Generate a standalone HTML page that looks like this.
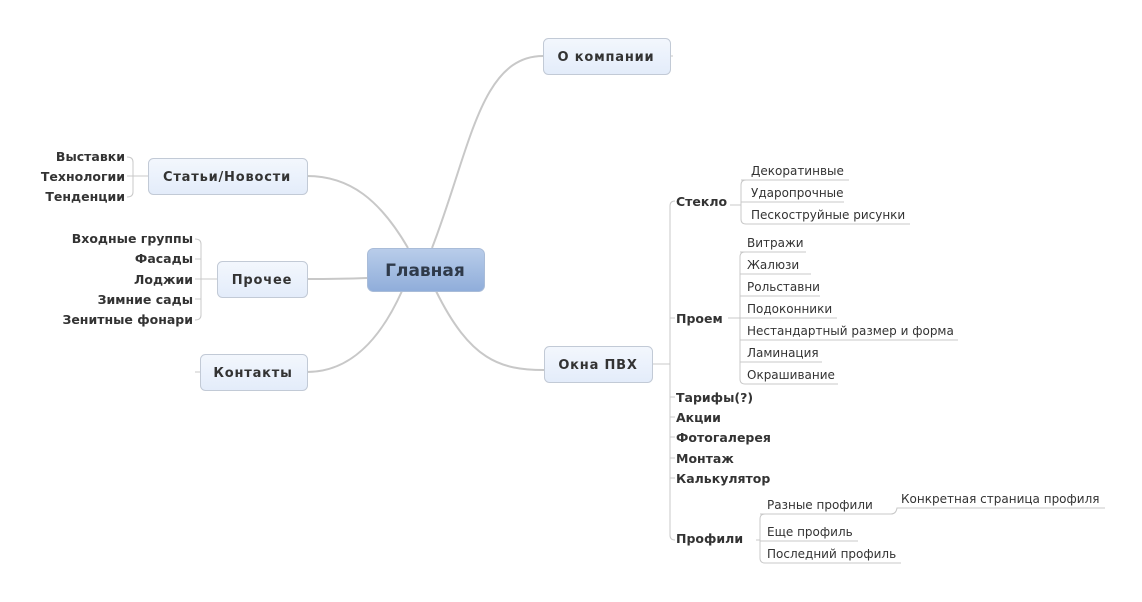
<!DOCTYPE html>
<html><head><meta charset="utf-8"><style>
html,body{margin:0;padding:0;background:#fff;}
svg{display:block;}
text{font-family:"DejaVu Sans","Liberation Sans",sans-serif;fill:#333;}
.b{font-weight:bold;font-size:12.5px;}
.n{font-size:12px;}
.t{font-weight:bold;font-size:13px;letter-spacing:0.8px;}
</style></head><body>
<svg width="1142" height="602" viewBox="0 0 1142 602" xmlns="http://www.w3.org/2000/svg">
<defs>
<linearGradient id="g1" x1="0" y1="0" x2="0" y2="1"><stop offset="0" stop-color="#f3f7fd"/><stop offset="1" stop-color="#e3ecfa"/></linearGradient>
<linearGradient id="g2" x1="0" y1="0" x2="0" y2="1"><stop offset="0" stop-color="#b9cdea"/><stop offset="1" stop-color="#8fadda"/></linearGradient>
</defs>
<g fill="none" stroke="#c8c8c8" stroke-width="2">
<path d="M432 248 C 470 150, 480 56, 543 56"/>
<path d="M436 291 C 470 360, 500 370, 544 370"/>
<path d="M408 248 C 380 200, 350 176, 307 176"/>
<path d="M367 278 C 340 279, 320 279, 307 279"/>
<path d="M402 291 C 380 340, 350 372, 307 372"/>
</g>
<g fill="none" stroke="#c8c8c8" stroke-width="1">
<line x1="670" y1="56" x2="673" y2="56"/>
<line x1="652" y1="364" x2="670" y2="364"/>
<line x1="195" y1="372" x2="200" y2="372"/>
<path d="M670 206 Q670 201 675 201 M670 206 V535 Q670 540 675 540"/>
<line x1="670" y1="318" x2="675" y2="318"/>
<line x1="670" y1="397" x2="675" y2="397"/>
<line x1="670" y1="417" x2="675" y2="417"/>
<line x1="670" y1="437" x2="675" y2="437"/>
<line x1="670" y1="458" x2="675" y2="458"/>
<line x1="670" y1="478" x2="675" y2="478"/>
<line x1="730" y1="205" x2="741" y2="205"/>
<path d="M746 180 Q741 180 741 185 V219 Q741 224 746 224"/>
<line x1="741" y1="180" x2="849" y2="180"/>
<line x1="741" y1="202" x2="844" y2="202"/>
<line x1="746" y1="224" x2="910" y2="224"/>
<line x1="728" y1="318" x2="740" y2="318"/>
<path d="M745 252 Q740 252 740 257 V379 Q740 384 745 384"/>
<line x1="740" y1="252" x2="806" y2="252"/>
<line x1="740" y1="274" x2="811" y2="274"/>
<line x1="740" y1="296" x2="820" y2="296"/>
<line x1="740" y1="318" x2="837" y2="318"/>
<line x1="740" y1="340" x2="958" y2="340"/>
<line x1="740" y1="362" x2="822" y2="362"/>
<line x1="745" y1="384" x2="838" y2="384"/>
<line x1="756" y1="540" x2="760" y2="540"/>
<path d="M765 514 Q760 514 760 519 V558 Q760 563 765 563"/>
<line x1="760" y1="514" x2="891" y2="514"/>
<path d="M891 514 Q896 514 897 508 L1105 508"/>
<line x1="760" y1="541" x2="858" y2="541"/>
<line x1="765" y1="563" x2="901" y2="563"/>
<path d="M127 157 Q133 157 133 162 V192 Q133 197 127 197"/>
<line x1="127" y1="176" x2="148" y2="176"/>
<path d="M195 239 Q201 239 201 244 V315 Q201 320 195 320"/>
<line x1="195" y1="259" x2="201" y2="259"/>
<line x1="195" y1="279" x2="217" y2="279"/>
<line x1="195" y1="299" x2="201" y2="299"/>
</g>
<rect x="367.5" y="248.5" width="117" height="43" rx="6" fill="url(#g2)" stroke="#a9bcd8"/>
<text x="425" y="276" text-anchor="middle" style="font-weight:bold;font-size:17px;fill:#2f3a4a">Главная</text>
<rect x="543.5" y="38.5" width="127" height="36" rx="5" fill="url(#g1)" stroke="#c2cad6"/>
<text x="606" y="61" text-anchor="middle" class="t">О компании</text>
<rect x="544.5" y="346.5" width="108" height="36" rx="5" fill="url(#g1)" stroke="#c2cad6"/>
<text x="598" y="369" text-anchor="middle" class="t">Окна ПВХ</text>
<rect x="148.5" y="158.5" width="159" height="36" rx="5" fill="url(#g1)" stroke="#c2cad6"/>
<text x="227" y="181" text-anchor="middle" class="t">Статьи/Новости</text>
<rect x="217.5" y="261.5" width="90" height="36" rx="5" fill="url(#g1)" stroke="#c2cad6"/>
<text x="262" y="284" text-anchor="middle" class="t">Прочее</text>
<rect x="200.5" y="354.5" width="107" height="36" rx="5" fill="url(#g1)" stroke="#c2cad6"/>
<text x="253" y="377" text-anchor="middle" class="t">Контакты</text>
<g text-anchor="end">
<text x="125" y="161" class="b">Выставки</text>
<text x="125" y="181" class="b">Технологии</text>
<text x="125" y="201" class="b">Тенденции</text>
<text x="193" y="243" class="b">Входные группы</text>
<text x="193" y="263" class="b">Фасады</text>
<text x="193" y="284" class="b">Лоджии</text>
<text x="193" y="304" class="b">Зимние сады</text>
<text x="193" y="324" class="b">Зенитные фонари</text>
</g>
<text x="676" y="206" class="b">Стекло</text>
<text x="676" y="323" class="b">Проем</text>
<text x="676" y="402" class="b">Тарифы(?)</text>
<text x="676" y="422" class="b">Акции</text>
<text x="676" y="442" class="b">Фотогалерея</text>
<text x="676" y="463" class="b">Монтаж</text>
<text x="676" y="483" class="b">Калькулятор</text>
<text x="676" y="543" class="b">Профили</text>
<text x="751" y="175" class="n">Декоратинвые</text>
<text x="751" y="197" class="n">Ударопрочные</text>
<text x="751" y="219" class="n">Пескоструйные рисунки</text>
<text x="747" y="247" class="n">Витражи</text>
<text x="747" y="269" class="n">Жалюзи</text>
<text x="747" y="291" class="n">Рольставни</text>
<text x="747" y="313" class="n">Подоконники</text>
<text x="747" y="335" class="n">Нестандартный размер и форма</text>
<text x="747" y="357" class="n">Ламинация</text>
<text x="747" y="379" class="n">Окрашивание</text>
<text x="767" y="509" class="n">Разные профили</text>
<text x="901" y="503" class="n">Конкретная страница профиля</text>
<text x="767" y="536" class="n">Еще профиль</text>
<text x="767" y="558" class="n">Последний профиль</text>
</svg>
</body></html>
